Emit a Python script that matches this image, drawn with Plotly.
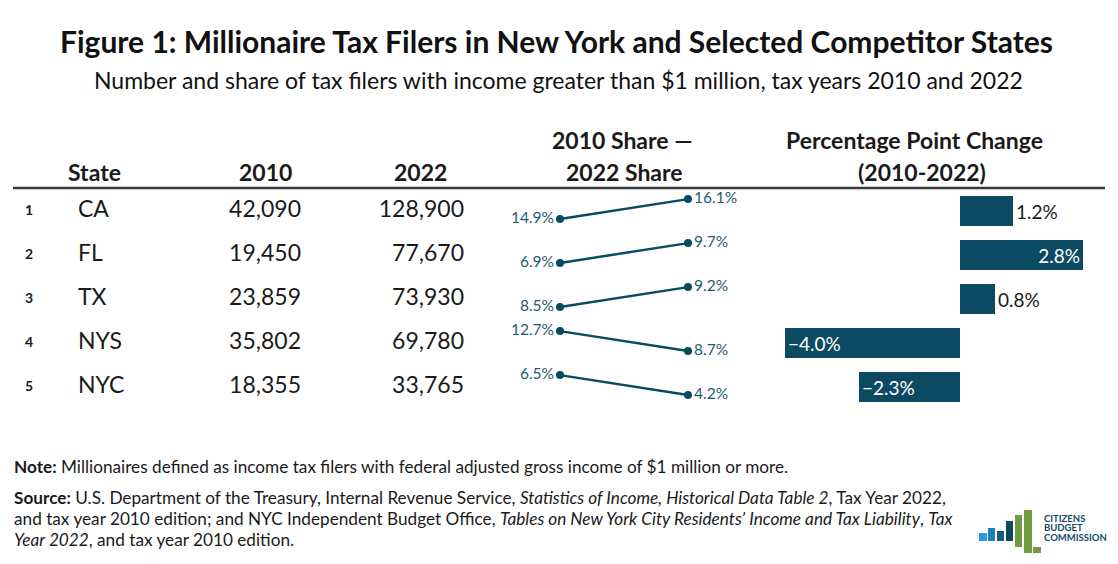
import plotly.graph_objects as go

# ---------------- data ----------------
ranks = [1, 2, 3, 4, 5]
states = ["CA", "FL", "TX", "NYS", "NYC"]
filers_2010 = [42090, 19450, 23859, 35802, 18355]
filers_2022 = [128900, 77670, 73930, 69780, 33765]
share_2010 = [14.9, 6.9, 8.5, 12.7, 6.5]
share_2022 = [16.1, 9.7, 9.2, 8.7, 4.2]
pp_change = [1.2, 2.8, 0.8, -4.0, -2.3]

W, H = 1118, 564
NAVY = "#0b4a62"
TEXT = "#1a1a1a"
FONT = "Lato"

rows = list(range(len(states)))
# y axis in "row units": row i centred at pixel 211 + 44*i
ROW0, ROWH = 211.0, 44.0
y_top = (0 - ROW0) / ROWH
y_bot = (H - ROW0) / ROWH


def px(x):
    return x / W


def py(y):
    return 1 - y / H


fig = go.Figure()

# ---------- table columns (xaxis x: pixel-like scale) ----------
fig.add_trace(go.Scatter(
    x=[29] * len(rows), y=rows, mode="text", text=[f"<b>{r}</b>" for r in ranks],
    textposition="middle center", textfont=dict(family=FONT, size=14, color=TEXT),
    xaxis="x", yaxis="y", hoverinfo="skip", showlegend=False, cliponaxis=False))
fig.add_trace(go.Scatter(
    x=[78] * len(rows), y=rows, mode="text", text=states,
    textposition="middle right", textfont=dict(family=FONT, size=23, color=TEXT),
    xaxis="x", yaxis="y", hoverinfo="skip", showlegend=False, cliponaxis=False))
fig.add_trace(go.Scatter(
    x=[301] * len(rows), y=rows, mode="text", text=[f"{v:,}" for v in filers_2010],
    textposition="middle left", textfont=dict(family=FONT, size=23, color=TEXT),
    xaxis="x", yaxis="y", hoverinfo="skip", showlegend=False, cliponaxis=False))
fig.add_trace(go.Scatter(
    x=[464] * len(rows), y=rows, mode="text", text=[f"{v:,}" for v in filers_2022],
    textposition="middle left", textfont=dict(family=FONT, size=23, color=TEXT),
    xaxis="x", yaxis="y", hoverinfo="skip", showlegend=False, cliponaxis=False))

# ---------- slope chart (xaxis x2: 0 = 2010, 1 = 2022) ----------
UP, DOWN = -0.27, 0.18
for i, (a, b) in enumerate(zip(share_2010, share_2022)):
    ya = i + (UP if a > b else DOWN)
    yb = i + (UP if b > a else DOWN)
    fig.add_trace(go.Scatter(
        x=[0, 1], y=[ya, yb], mode="lines+markers+text",
        text=[f"{a:.1f}%", f"{b:.1f}%"], textposition=["middle left", "middle right"],
        textfont=dict(family=FONT, size=15.5, color="#1d5a72"),
        line=dict(color=NAVY, width=2.5), marker=dict(color=NAVY, size=8),
        xaxis="x2", yaxis="y", hoverinfo="skip", showlegend=False, cliponaxis=False))

# ---------- percentage point change bars (xaxis x3) ----------
fig.add_trace(go.Bar(
    x=pp_change, y=rows, orientation="h", width=0.66,
    marker=dict(color=NAVY, line=dict(width=0)),
    text=[f"{v:.1f}%".replace("-", "\u2212") for v in pp_change],
    textposition=["inside" if abs(v) >= 2 else "outside" for v in pp_change],
    insidetextanchor="end", constraintext="none", textangle=0,
    insidetextfont=dict(family=FONT, size=19, color="white"),
    outsidetextfont=dict(family=FONT, size=19, color=TEXT),
    xaxis="x3", yaxis="y", hoverinfo="skip", showlegend=False, cliponaxis=False))

# axis ranges so that scales line up with layout
slope_x0, slope_px_per = 560.0, 128.0
bar_x0, bar_px_per = 960.0, 43.75
axis_off = dict(visible=False, showgrid=False, zeroline=False, fixedrange=True)

annotations = []


def ann(text, x, y, size, xanchor="center", yanchor="middle", color=TEXT, bold=False, **kw):
    annotations.append(dict(
        text=f"<b>{text}</b>" if bold else text, x=px(x), y=py(y), xref="paper", yref="paper",
        xanchor=xanchor, yanchor=yanchor, showarrow=False,
        font=dict(family=FONT, size=size, color=color), **kw))


# title & subtitle
ann("Figure 1: Millionaire Tax Filers in New York and Selected Competitor States", 556, 41, 30, bold=True, color="#111")
ann("Number and share of tax filers with income greater than $1 million, tax years 2010 and 2022", 558, 80, 23, color="#111")

# headers
ann("State", 94, 172, 23, bold=True)
ann("2010", 265, 172, 23, bold=True)
ann("2022", 420, 172, 23, bold=True)
ann("2010 Share \u2014", 622, 140, 23, bold=True)
ann("2022 Share", 624, 172, 23, bold=True)
ann("Percentage Point Change", 914, 140, 23, bold=True)
ann("(2010-2022)", 922, 172, 23, bold=True)

# footer
FS = 17.2
ann("<b>Note:</b> Millionaires defined as income tax filers with federal adjusted gross income of $1 million or more.",
    12, 466, FS, xanchor="left")
ann("<b>Source:</b> U.S. Department of the Treasury, Internal Revenue Service, <i>Statistics of Income, Historical Data Table 2</i>, Tax Year 2022,",
    12, 497, FS, xanchor="left")
ann("and tax year 2010 edition; and NYC Independent Budget Office, <i>Tables on New York City Residents\u2019 Income and Tax Liability</i>, <i>Tax</i>",
    12, 518, FS, xanchor="left")
ann("<i>Year 2022</i>, and tax year 2010 edition.", 12, 539, FS, xanchor="left")

# logo text
ann("<b>CITIZENS</b>", 1042, 518, 9.5, xanchor="left", color="#0f4c6a")
ann("<b>BUDGET</b>", 1042, 527.5, 9.5, xanchor="left", color="#0f4c6a")
ann("<b>COMMISSION</b>", 1042, 537, 9.5, xanchor="left", color="#0f4c6a")

shapes = [
    dict(type="line", xref="paper", yref="paper", x0=px(13), x1=px(1105), y0=py(188), y1=py(188),
         line=dict(color="#3a3a3a", width=2.5)),
]
logo_bars = [
    (979, 987, 533, 541, "#2a9ad8"),
    (988, 995, 528, 541, "#1f7db5"),
    (997, 1004, 531, 541, "#175a80"),
    (1006, 1013, 521, 541, "#0d4760"),
    (1015, 1022, 515, 547, "#6e9a40"),
    (1024, 1032, 510, 553, "#6e9a40"),
    (1033, 1041, 547, 553, "#6e9a40"),
]
for x0, x1, y0, y1, c in logo_bars:
    shapes.append(dict(type="rect", xref="paper", yref="paper", x0=px(x0), x1=px(x1),
                       y0=py(y1), y1=py(y0), fillcolor=c, line=dict(width=0)))

fig.update_layout(
    width=W, height=H, margin=dict(l=0, r=0, t=0, b=0),
    paper_bgcolor="white", plot_bgcolor="rgba(0,0,0,0)",
    font=dict(family=FONT, color=TEXT),
    showlegend=False, bargap=0,
    xaxis=dict(domain=[0, 1], range=[0, W], anchor="y", **axis_off),
    xaxis2=dict(domain=[0, 1], range=[(0 - slope_x0) / slope_px_per, (W - slope_x0) / slope_px_per],
                overlaying="x", anchor="y", **axis_off),
    xaxis3=dict(domain=[0, 1], range=[(0 - bar_x0) / bar_px_per, (W - bar_x0) / bar_px_per],
                overlaying="x", anchor="y", **axis_off),
    yaxis=dict(domain=[0, 1], range=[y_bot, y_top], **axis_off),
    annotations=annotations, shapes=shapes,
)

fig.write_html("out.html")
